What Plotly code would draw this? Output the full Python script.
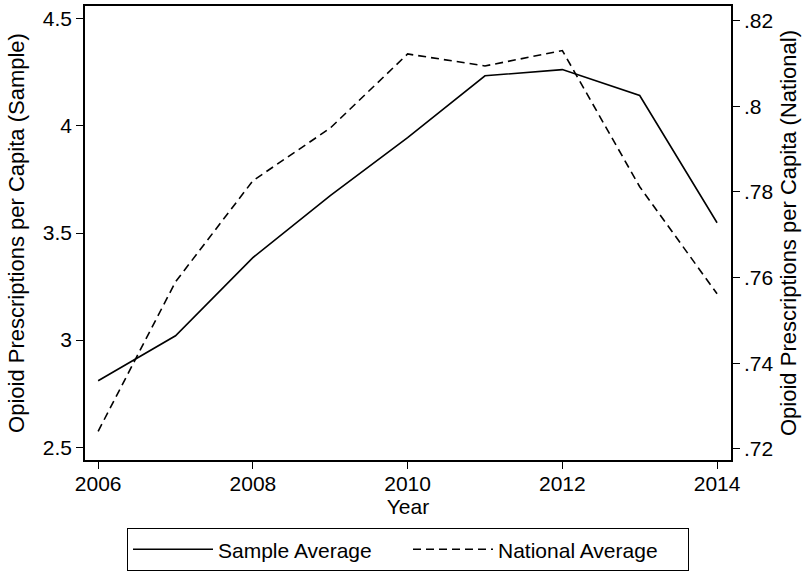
import plotly.graph_objects as go

years = [2006, 2007, 2008, 2009, 2010, 2011, 2012, 2013, 2014]
sample_avg = [2.81, 3.02, 3.385, 3.675, 3.945, 4.234, 4.263, 4.142, 3.548]
national_avg = [0.7241, 0.7590, 0.7826, 0.7949, 0.8122, 0.8094, 0.8130, 0.7812, 0.7562]

left_ticks = [2.5, 3, 3.5, 4, 4.5]
left_labels = ["2.5", "3", "3.5", "4", "4.5"]
right_ticks = [0.72, 0.74, 0.76, 0.78, 0.80, 0.82]
right_labels = [".72", ".74", ".76", ".78", ".8", ".82"]
x_ticks = [2006, 2008, 2010, 2012, 2014]

FONT = "Liberation Sans, Arial, sans-serif"

fig = go.Figure()
fig.add_trace(go.Scatter(x=years, y=sample_avg, mode="lines", name="Sample Average",
                         line=dict(color="black", width=1.6), yaxis="y"))
fig.add_trace(go.Scatter(x=years, y=national_avg, mode="lines", name="National Average",
                         line=dict(color="black", width=1.6, dash="8px,5px"), yaxis="y2"))

axis_common = dict(showgrid=False, zeroline=False, showline=True, linecolor="black",
                   linewidth=1.6, ticks="outside", ticklen=7, tickwidth=1.2, tickcolor="black",
                   automargin=False,
                   tickfont=dict(size=21, color="black", family=FONT))

fig.update_layout(
    width=804, height=571,
    margin=dict(l=85, r=73, t=6, b=111),
    paper_bgcolor="white", plot_bgcolor="white",
    font=dict(family=FONT, size=21, color="black"),
    xaxis=dict(range=[2005.83, 2014.18], tickvals=x_ticks, mirror=True, ticklabelstandoff=-3,
               title=dict(text="Year", font=dict(size=21), standoff=0), **axis_common),
    yaxis=dict(range=[2.44, 4.56], tickvals=left_ticks, ticktext=left_labels, mirror=True,
               title=dict(text="Opioid Prescriptions per Capita (Sample)", font=dict(size=22), standoff=12),
               **axis_common),
    yaxis2=dict(range=[0.7174, 0.8234], tickvals=right_ticks, ticktext=right_labels,
                overlaying="y", side="right",
                title=dict(text="Opioid Prescriptions per Capita (National)", font=dict(size=22), standoff=8),
                **axis_common),
    showlegend=True,
    legend=dict(orientation="h", x=0.5, xanchor="center", xref="paper",
                y=0.075, yanchor="top", yref="container",
                bordercolor="black", borderwidth=1, font=dict(size=21, color="black"),
                itemwidth=80, entrywidth=185, entrywidthmode="pixels", bgcolor="white"),
)

fig.write_html("out.html", config={"displayModeBar": False},
               post_script="document.body.style.margin='0';document.body.style.overflow='hidden';")
